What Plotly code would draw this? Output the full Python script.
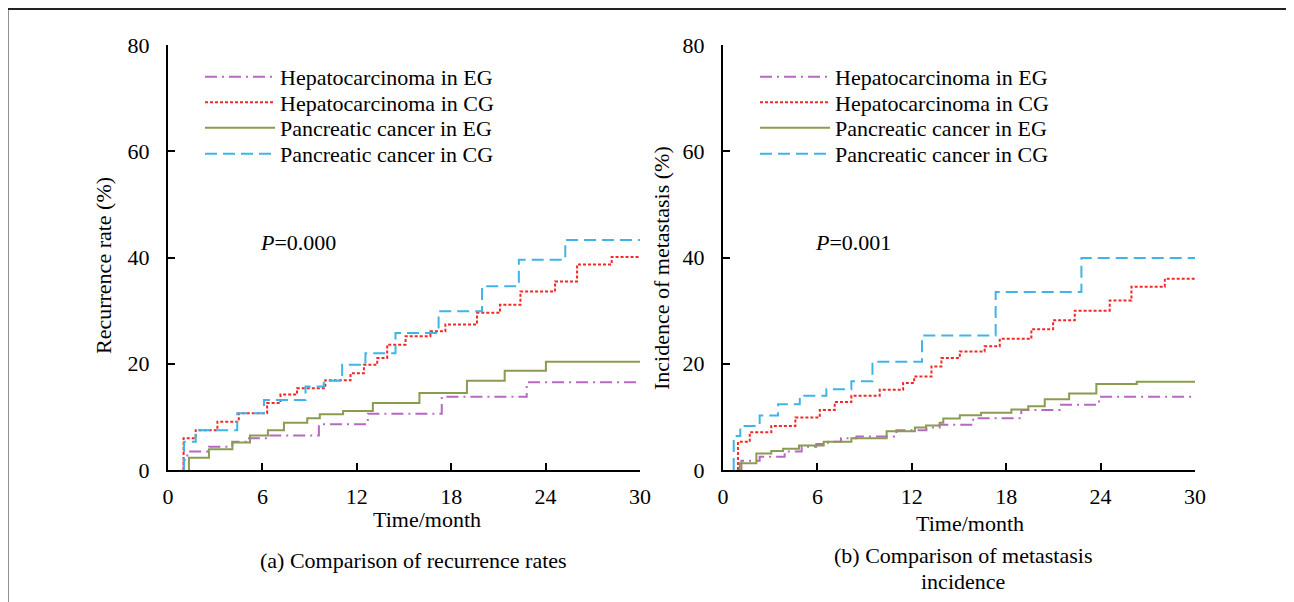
import plotly.graph_objects as go

# ---------------- data (months, %) ----------------
names = ["Hepatocarcinoma in EG", "Hepatocarcinoma in CG",
         "Pancreatic cancer in EG", "Pancreatic cancer in CG"]
x_ticks = [0, 6, 12, 18, 24, 30]
y_ticks = [0, 20, 40, 60, 80]
end_month = 30

# (a) recurrence rate
a_hep_eg_t = [1.0, 1.23, 2.6, 4.09, 5.15, 6.3, 9.59, 12.7, 17.4, 22.8]
a_hep_eg_v = [1.9, 3.5, 4.4, 5.3, 6.0, 6.5, 8.6, 10.6, 13.8, 16.5]
a_hep_cg_t = [0.99, 1.76, 3.14, 4.5, 6.3, 7.15, 8.2, 10.0, 11.6, 12.45, 13.3,
              13.93, 15.1, 16.68, 17.63, 19.64, 21.1, 22.4, 24.6, 26.0, 28.2]
a_hep_cg_v = [6.0, 7.5, 9.1, 10.7, 12.6, 14.2, 15.4, 16.9, 18.2, 19.8, 21.1,
              23.6, 25.2, 26.1, 27.4, 29.6, 31.1, 33.6, 35.5, 38.7, 40.1]
a_pan_eg_t = [1.33, 2.6, 4.09, 5.21, 6.35, 7.37, 8.85, 9.65, 11.13, 13.02,
              15.98, 19.0, 21.4, 24.02]
a_pan_eg_v = [2.3, 3.9, 5.2, 6.5, 7.5, 8.9, 9.75, 10.5, 11.1, 12.6,
              14.5, 16.8, 18.7, 20.4]
a_pan_cg_t = [1.02, 1.76, 4.4, 6.1, 8.74, 9.9, 11.07, 12.55, 14.46, 17.2,
              19.96, 22.3, 25.25]
a_pan_cg_v = [5.3, 7.5, 10.7, 13.2, 15.7, 16.8, 19.8, 22.0, 25.8, 29.9,
              34.6, 39.6, 43.3]

# (b) incidence of metastasis
b_hep_eg_t = [1.17, 2.33, 3.92, 5.0, 5.93, 6.68, 7.5, 8.48, 11.02, 12.93,
              13.77, 15.9, 18.96, 21.4, 23.9]
b_hep_eg_v = [1.76, 2.5, 3.5, 4.4, 4.9, 5.3, 6.0, 6.3, 7.5, 8.0,
              8.5, 9.75, 11.3, 12.3, 13.8]
b_hep_cg_t = [0.95, 1.7, 3.07, 4.6, 6.15, 7.1, 8.16, 9.96, 11.45, 12.15, 13.25,
              13.88, 15.05, 16.63, 17.59, 19.6, 20.98, 22.36, 24.58, 25.96, 28.08]
b_hep_cg_v = [5.3, 7.1, 8.3, 9.9, 11.3, 12.8, 14.0, 15.1, 16.4, 17.6, 19.5,
              21.1, 22.3, 23.3, 24.7, 26.5, 28.2, 30.0, 31.9, 34.5, 36.0]
b_pan_eg_t = [1.06, 2.12, 3.07, 3.82, 4.83, 6.4, 8.16, 10.4, 12.2, 12.9,
              13.77, 14.0, 15.05, 16.4, 18.33, 19.4, 20.45, 22.0, 23.73, 26.3]
b_pan_eg_v = [1.26, 3.1, 3.6, 4.0, 4.6, 5.3, 6.0, 7.3, 8.0, 8.4,
              8.9, 9.7, 10.3, 10.8, 11.4, 12.0, 13.3, 14.4, 16.2, 16.6]
b_pan_cg_t = [0.68, 1.1, 2.33, 3.5, 4.88, 6.57, 8.16, 9.5, 12.65, 17.33, 22.78]
b_pan_cg_v = [6.4, 8.3, 10.25, 12.4, 14.0, 15.2, 16.7, 20.4, 25.3, 33.5, 39.9]

p_texts = ["<i>P</i>=0.000", "<i>P</i>=0.001"]
y_titles = ["Recurrence rate (%)", "Incidence of metastasis (%)"]
x_title = "Time/month"
caption_a = "(a) Comparison of recurrence rates"
caption_b_lines = ["(b) Comparison of metastasis", "incidence"]

# ---------------- styling ----------------
W, H = 1294, 602
PAGE_OFFSET = 8  # default body margin of the html page
FONT = "Liberation Serif, Times New Roman, serif"
colors = ["#b868c4", "#f02828", "#8a9c50", "#40b4e6"]
dashes = ["12px,5px,2px,5px", "3px,2px", "solid", "12px,6px"]
legend_rows_px = [77, 102.5, 128, 154]
legend_left_px = [200, 755]

def px_x(p):
    return (p - PAGE_OFFSET) / W

def px_y(p):
    return 1 - (p - PAGE_OFFSET) / H

fig = go.Figure()

panels = [
    ("x", "y", [(a_hep_eg_t, a_hep_eg_v), (a_hep_cg_t, a_hep_cg_v),
                (a_pan_eg_t, a_pan_eg_v), (a_pan_cg_t, a_pan_cg_v)]),
    ("x2", "y2", [(b_hep_eg_t, b_hep_eg_v), (b_hep_cg_t, b_hep_cg_v),
                  (b_pan_eg_t, b_pan_eg_v), (b_pan_cg_t, b_pan_cg_v)]),
]

legend_layout = {}
k = 0
for p, (xa, ya, series) in enumerate(panels):
    for i, (t, v) in enumerate(series):
        k += 1
        lg = "legend" if k == 1 else f"legend{k}"
        xs = [t[0]] + list(t) + [end_month]
        ys = [0] + list(v) + [v[-1]]
        fig.add_trace(go.Scatter(
            x=xs, y=ys, mode="lines", line_shape="hv",
            line=dict(color=colors[i], width=2, dash=dashes[i]),
            name=names[i], xaxis=xa, yaxis=ya, legend=lg,
        ))
        legend_layout[lg] = dict(
            x=px_x(legend_left_px[p]), y=px_y(legend_rows_px[i]),
            xanchor="left", yanchor="middle", bgcolor="rgba(0,0,0,0)",
            itemwidth=70, borderwidth=0,
            font=dict(family=FONT, size=22, color="black"))

ydom = [px_y(470), px_y(45)]
axis_common = dict(
    showline=True, linecolor="black", linewidth=2, ticks="inside",
    ticklen=7, tickwidth=2, tickcolor="black", showgrid=False, zeroline=False,
    tickfont=dict(family=FONT, size=22, color="black"), automargin=False,
)
fig.update_layout(
    width=W, height=H,
    margin=dict(l=0, r=0, t=0, b=0, pad=0, autoexpand=False),
    paper_bgcolor="white", plot_bgcolor="white",
    font=dict(family=FONT, size=22, color="black"),
    xaxis=dict(domain=[px_x(168), px_x(640)], range=[0, 30], tickvals=x_ticks,
               anchor="y", ticklabelstandoff=6, **axis_common),
    yaxis=dict(domain=ydom, range=[0, 80], tickvals=y_ticks, anchor="x",
               ticklabelstandoff=12, **axis_common),
    xaxis2=dict(domain=[px_x(723), px_x(1195)], range=[0, 30], tickvals=x_ticks,
                anchor="y2", ticklabelstandoff=6, **axis_common),
    yaxis2=dict(domain=ydom, range=[0, 80], tickvals=y_ticks, anchor="x2",
                ticklabelstandoff=12, **axis_common),
    showlegend=True,
    **legend_layout,
)

# outer frame
fig.add_shape(type="rect", xref="paper", yref="paper",
              x0=px_x(7.5), x1=px_x(1290), y0=-0.2, y1=px_y(9),
              line=dict(color="#222", width=2), fillcolor="rgba(0,0,0,0)")

ann = []
ann.append(dict(x=px_x(338), y=px_y(242), text=p_texts[0], xanchor="right"))
ann.append(dict(x=px_x(893), y=px_y(242), text=p_texts[1], xanchor="right"))
ann.append(dict(x=px_x(103), y=px_y(266), text=y_titles[0], textangle=-90))
ann.append(dict(x=px_x(662), y=px_y(268), text=y_titles[1], textangle=-90))
ann.append(dict(x=px_x(427), y=px_y(519), text=x_title))
ann.append(dict(x=px_x(970), y=px_y(523), text=x_title))
ann.append(dict(x=px_x(413), y=px_y(560), text=caption_a))
ann.append(dict(x=px_x(963), y=px_y(555), text=caption_b_lines[0]))
ann.append(dict(x=px_x(963), y=px_y(581), text=caption_b_lines[1]))
for a in ann:
    a.setdefault("xanchor", "center")
    fig.add_annotation(xref="paper", yref="paper", showarrow=False,
                       yanchor="middle", font=dict(family=FONT, size=22, color="black"),
                       **a)

fig.write_html("out.html")
